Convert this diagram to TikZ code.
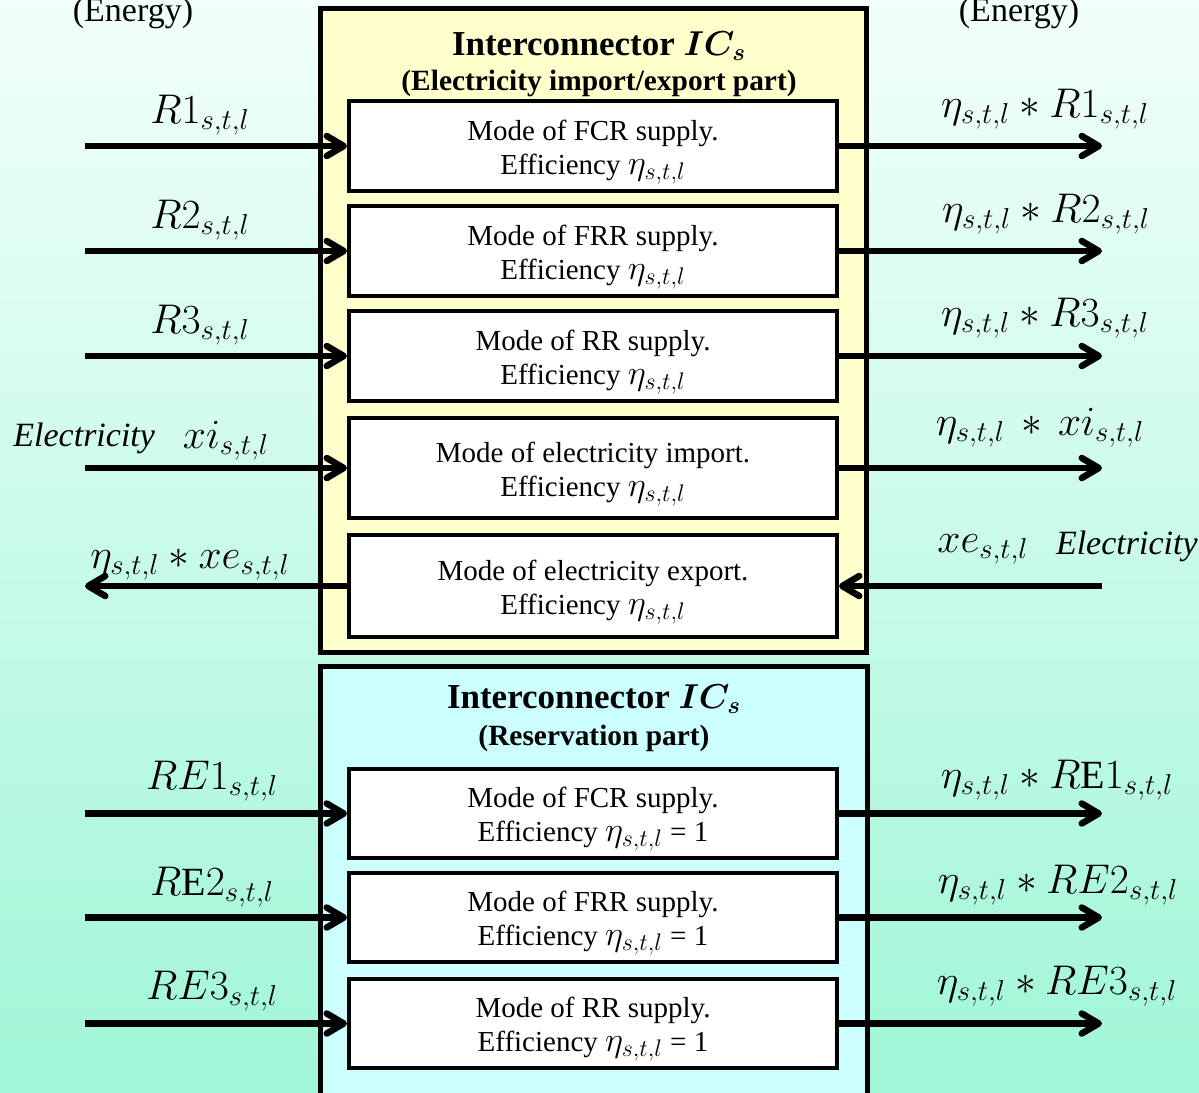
\documentclass[tikz,border=0pt]{standalone}
\usepackage{fontspec}
\setmainfont{Liberation Serif}
\usepackage{bm}
\usetikzlibrary{arrows.meta}
\definecolor{bgtop}{HTML}{F2FFFB}
\definecolor{bgbot}{HTML}{A0F6D6}
\definecolor{ylw}{HTML}{FFFFCC}
\definecolor{cyn}{HTML}{CCFFFF}
\newcommand{\etaB}{{\fontsize{16.5}{17}\selectfont$\eta_{s,t,l}$}}
\begin{document}
\begin{tikzpicture}[x=0.5pt,y=-0.5pt,
  modebox/.style={draw, line width=2pt, fill=white, minimum width=244pt, inner sep=0pt},
  boxtxt/.style={align=center, font=\fontsize{14.5}{17}\selectfont, inner sep=0pt},
  cont/.style={draw, line width=2.5pt, inner sep=0pt},
  arr/.style={line width=3.25pt, -{Straight Barb[length=8.5pt,width=10pt,line cap=round,line join=round]}},
  mlab/.style={font=\fontsize{20}{22}\selectfont, inner sep=0pt},
  slab/.style={font=\fontsize{19.5}{21}\selectfont, inner sep=0pt},
  itlab/.style={font=\fontsize{17}{20}\selectfont\itshape, inner sep=0pt},
  ttl/.style={font=\bfseries\fontsize{17.5}{20}\selectfont, inner sep=0pt},
  subttl/.style={font=\bfseries\fontsize{14.7}{17}\selectfont, inner sep=0pt},
  energy/.style={font=\fontsize{17}{20}\selectfont, inner sep=0pt}]
\useasboundingbox (0,0) rectangle (1199,1092);
\clip (0,0) rectangle (1199,1092);
\shade[top color=bgtop, bottom color=bgbot] (0,0) rectangle (1199,1092);

% Energy labels
\node[energy] (enL) at (133,13) {(Energy)};
\node[energy] (enR) at (1019,13) {(Energy)};

% containers
\node[cont, fill=ylw, minimum width=273pt, minimum height=322pt] (up) at (593,330) {};
\node[cont, fill=cyn, minimum width=273.5pt, minimum height=222pt] (lo) at (593.5,888) {};

% titles
\node[ttl] (t1) at (599,46) {Interconnector $\bm{IC_s}$};
\node[subttl] (s1) at (599,83) {(Electricity import/export part)};
\node[ttl] (t2) at (594,699) {Interconnector $\bm{IC_s}$};
\node[subttl] (s2) at (594,738) {(Reservation part)};

% mode boxes
\node[modebox, minimum height=45pt] (b1) at (593,146) {};
\node[modebox, minimum height=45pt] (b2) at (593,251) {};
\node[modebox, minimum height=45pt] (b3) at (593,356) {};
\node[modebox, minimum height=50pt] (b4) at (593,468) {};
\node[modebox, minimum height=51pt] (b5) at (593,586) {};
\node[modebox, minimum height=44.5pt] (c1) at (593,813.5) {};
\node[modebox, minimum height=44.5pt] (c2) at (593,917.5) {};
\node[modebox, minimum height=44.5pt] (c3) at (593,1023.5) {};

\path (b1.center) ++(0,6) node[boxtxt] (b1t) {Mode of FCR supply.\\Efficiency \etaB};
\path (b2.center) ++(0,6) node[boxtxt] (b2t) {Mode of FRR supply.\\Efficiency \etaB};
\path (b3.center) ++(0,6) node[boxtxt] (b3t) {Mode of RR supply.\\Efficiency \etaB};
\path (b4.center) ++(0,6) node[boxtxt] (b4t) {Mode of electricity import.\\Efficiency \etaB};
\path (b5.center) ++(0,6) node[boxtxt] (b5t) {Mode of electricity export.\\Efficiency \etaB};
\path (c1.center) ++(0,6) node[boxtxt] (c1t) {Mode of FCR supply.\\Efficiency \etaB{} = 1};
\path (c2.center) ++(0,6) node[boxtxt] (c2t) {Mode of FRR supply.\\Efficiency \etaB{} = 1};
\path (c3.center) ++(0,6) node[boxtxt] (c3t) {Mode of RR supply.\\Efficiency \etaB{} = 1};

% free ends
\foreach \n/\y in {1/146,2/251,3/356,4/468,5/586,6/813.5,7/917.5,8/1023.5}{
  \coordinate (L\n) at (85,\y);
  \coordinate (R\n) at (1102,\y);
}

% arrows
\draw[arr] (L1) -- (b1.west);
\draw[arr] (L2) -- (b2.west);
\draw[arr] (L3) -- (b3.west);
\draw[arr] (L4) -- (b4.west);
\draw[arr] (b5.west) -- (L5);
\draw[arr] (L6) -- (c1.west);
\draw[arr] (L7) -- (c2.west);
\draw[arr] (L8) -- (c3.west);
\draw[arr] (b1.east) -- (R1);
\draw[arr] (b2.east) -- (R2);
\draw[arr] (b3.east) -- (R3);
\draw[arr] (b4.east) -- (R4);
\draw[arr] (R5) -- (b5.east);
\draw[arr] (c1.east) -- (R6);
\draw[arr] (c2.east) -- (R7);
\draw[arr] (c3.east) -- (R8);

% left labels
\node[mlab] (la1) at (200,115) {$R1_{s,t,l}$};
\node[mlab] (la2) at (200,220) {$R2_{s,t,l}$};
\node[mlab] (la3) at (200,325) {$R3_{s,t,l}$};
\node[itlab, anchor=west] (la4a) at (13,438) {Electricity};
\node[mlab] (la4b) at (226,441) {$xi_{s,t,l}$};
\node[slab] (la5) at (190,565) {$\eta_{s,t,l} * xe_{s,t,l}$};
\node[mlab] (la6) at (212,781) {$RE1_{s,t,l}$};
\node[mlab] (la7) at (212,887) {$R\mathrm{E}2_{s,t,l}$};
\node[mlab] (la8) at (212,991) {$RE3_{s,t,l}$};

% right labels
\node[mlab] (ra1) at (1045,109) {$\eta_{s,t,l} * R1_{s,t,l}$};
\node[mlab] (ra2) at (1046,214) {$\eta_{s,t,l} * R2_{s,t,l}$};
\node[mlab] (ra3) at (1045,318) {$\eta_{s,t,l} * R3_{s,t,l}$};
\node[slab] (ra4) at (1040,428) {$\eta_{s,t,l}\, * \,xi_{s,t,l}$};
\node[mlab] (ra5a) at (983,549) {$xe_{s,t,l}$};
\node[itlab, anchor=east] (ra5b) at (1198,546) {Electricity};
\node[mlab] (ra6) at (1057,780) {$\eta_{s,t,l} * R\mathrm{E}1_{s,t,l}$};
\node[mlab] (ra7) at (1058,885) {$\eta_{s,t,l} * RE2_{s,t,l}$};
\node[mlab] (ra8) at (1057,986) {$\eta_{s,t,l} * RE3_{s,t,l}$};
\end{tikzpicture}
\end{document}
